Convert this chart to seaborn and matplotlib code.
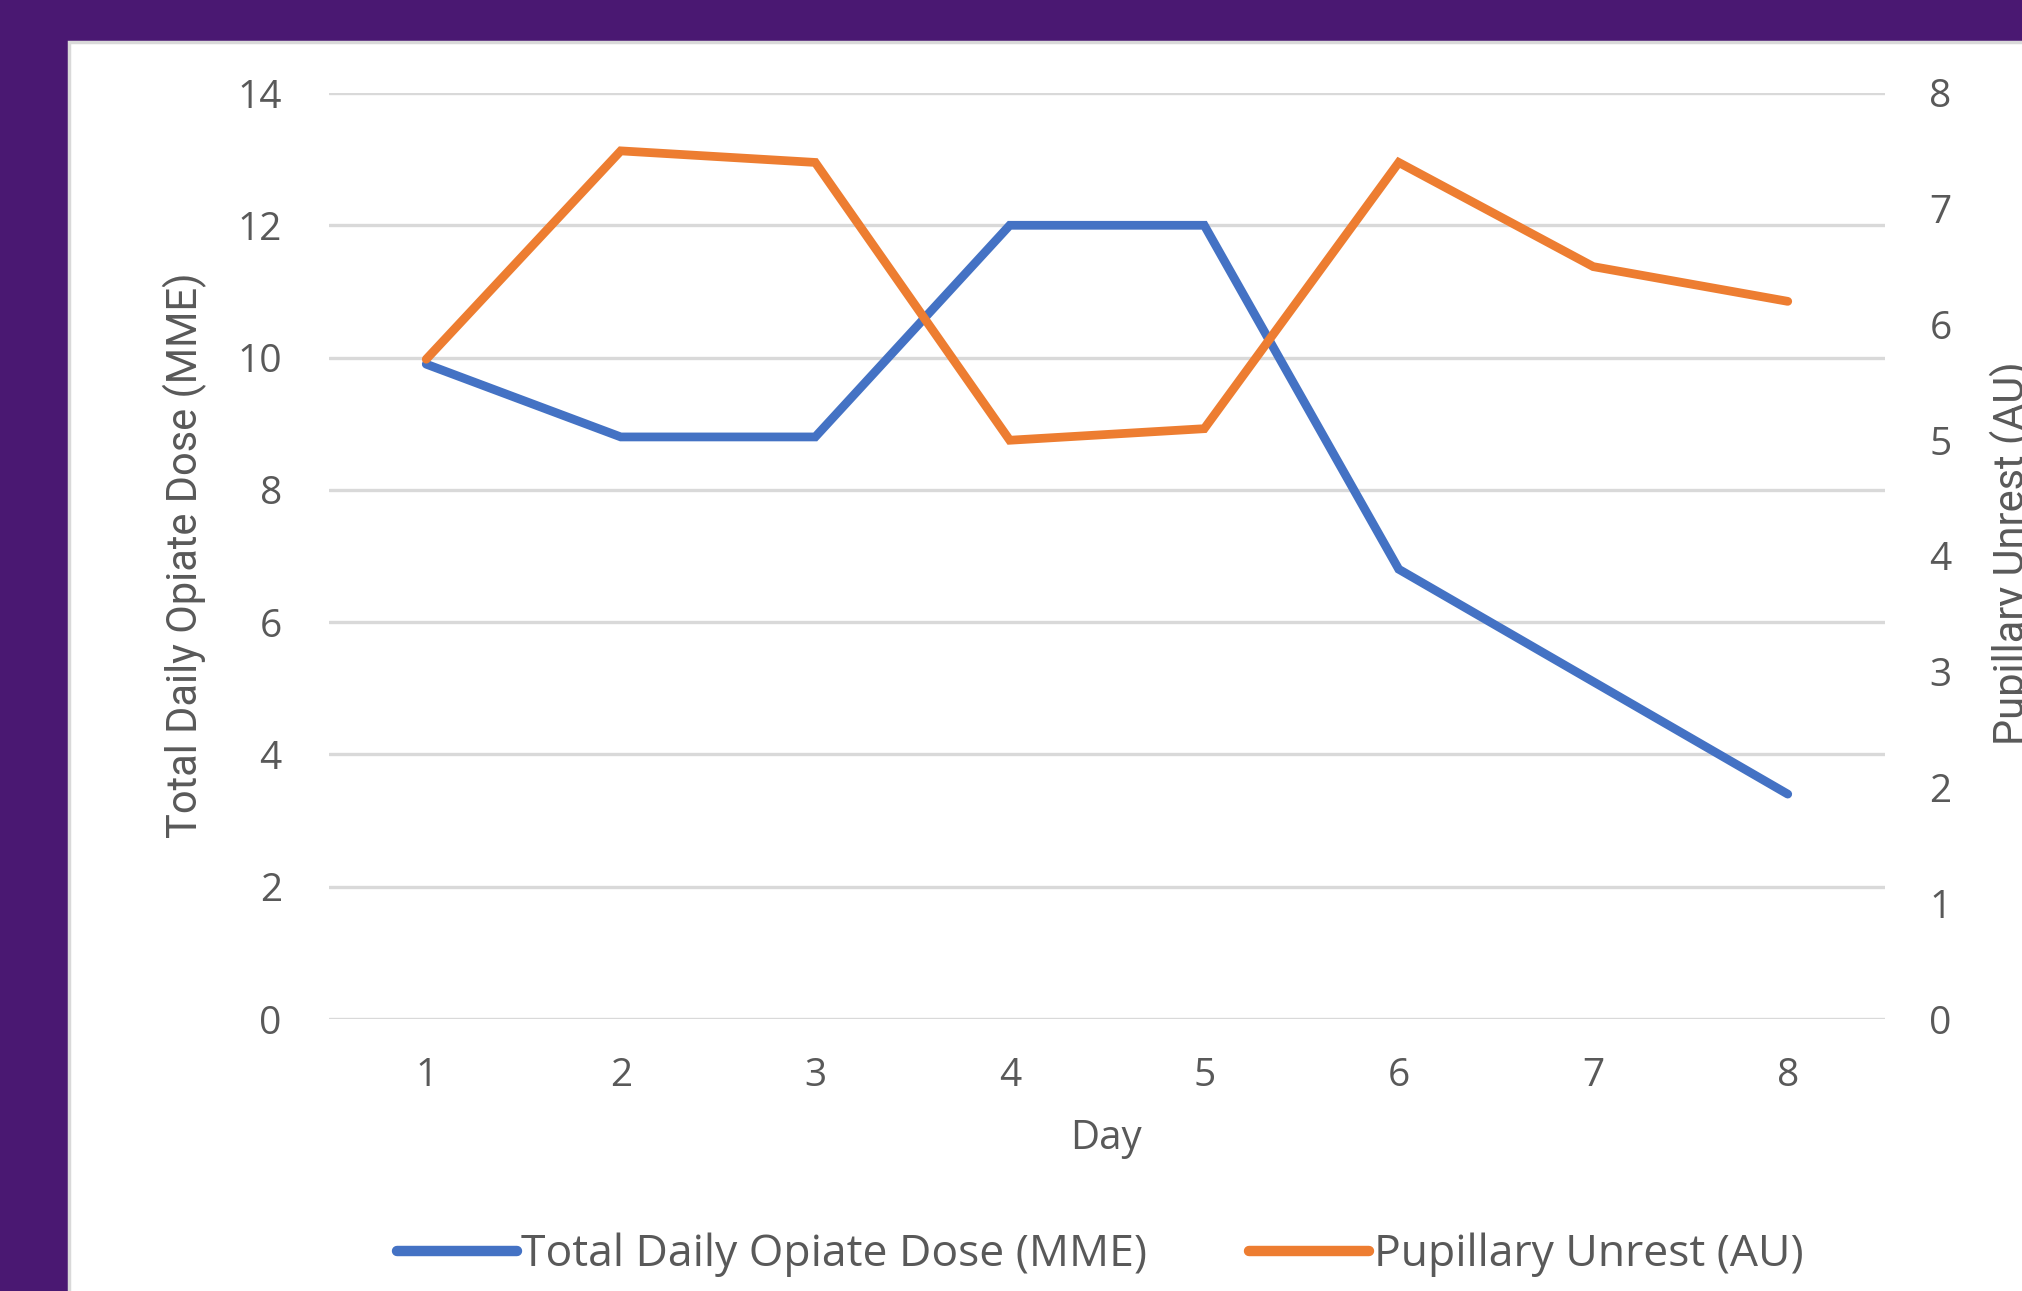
import matplotlib
matplotlib.use("Agg")
import matplotlib.pyplot as plt
from matplotlib import font_manager
from matplotlib.lines import Line2D
from matplotlib.patches import Rectangle
import pandas as pd
import seaborn as sns

# data
days = [1, 2, 3, 4, 5, 6, 7, 8]
opiate_dose = [9.9, 8.8, 8.8, 12.0, 12.0, 6.8, 5.1, 3.4]
pupillary_unrest = [5.7, 7.5, 7.4, 5.0, 5.1, 7.4, 6.5, 6.2]

dose_label = "Total Daily Opiate Dose (MME)"
unrest_label = "Pupillary Unrest (AU)"
left_ticks = [0, 2, 4, 6, 8, 10, 12, 14]
right_ticks = [0, 1, 2, 3, 4, 5, 6, 7, 8]

BLUE = "#4472C4"
ORANGE = "#ED7D31"
PURPLE = "#4A1872"
GRID = "#D9D9D9"
TEXT = "#595959"

sns.set_theme(style="white")
installed = {f.name for f in font_manager.fontManager.ttflist}
MAIN_FONT = ["Open Sans", "DejaVu Sans"]
NARROW_FONT = ["Liberation Sans Narrow", "DejaVu Sans"] if "Liberation Sans Narrow" in installed else ["Roboto", "DejaVu Sans"]
plt.rcParams["font.family"] = MAIN_FONT

df = pd.DataFrame({"Day": days, "dose": opiate_dose, "unrest": pupillary_unrest})

W, H = 2022, 1291
fig = plt.figure(figsize=(W / 100, H / 100), dpi=100, facecolor=PURPLE)

# white chart panel, behind everything
panel = Rectangle((69 / W, -0.05), 1.0, (H - 42) / H + 0.05, transform=fig.transFigure,
                  facecolor="white", edgecolor=GRID, linewidth=2.5, zorder=-10)
fig.patches.append(panel)

ax = fig.add_axes([329 / W, 1 - 1019 / H, (1885 - 329) / W, (1019 - 93) / H])
ax.set_facecolor("none")
ax2 = ax.twinx()
ax2.set_facecolor("none")

sns.lineplot(data=df, x="Day", y="dose", ax=ax, color=BLUE, linewidth=6.3,
             solid_capstyle="round", solid_joinstyle="miter", zorder=3)
sns.lineplot(data=df, x="Day", y="unrest", ax=ax2, color=ORANGE, linewidth=6.3,
             solid_capstyle="round", solid_joinstyle="miter", zorder=3)

ax.set_xlim(0.5, 8.5)
ax.set_ylim(0, 14)
ax2.set_ylim(0, 8)
ax.set_xticks(days)
ax.set_yticks(left_ticks)
ax2.set_yticks(right_ticks)

for a in (ax, ax2):
    for s in a.spines.values():
        s.set_visible(False)
    a.set_xlabel("")
    a.set_ylabel("")
    a.tick_params(length=0, labelsize=28, labelcolor=TEXT)

ax.tick_params(axis="y", pad=34)
ax.tick_params(axis="x", pad=27)
ax2.tick_params(axis="y", pad=32)
for lab in ax.get_xticklabels() + ax.get_yticklabels() + ax2.get_yticklabels():
    lab.set_fontfamily(MAIN_FONT)

ax.grid(axis="y", color=GRID, linewidth=2.4)
ax.grid(axis="x", visible=False)
ax2.grid(False)
ax.set_axisbelow(True)

# axis titles
fig.text(185 / W, 1 - 555 / H, dose_label, rotation=90, ha="center", va="center",
         fontsize=30, color=TEXT, family=NARROW_FONT)
fig.text(1990 / W, 1 - 553 / H, unrest_label, rotation=90, ha="left", va="center",
         fontsize=30, color=TEXT, family=NARROW_FONT)
fig.text(1106 / W, 1 - 1139 / H, "Day", ha="center", va="center",
         fontsize=29, color=TEXT, family=MAIN_FONT)

handles = [
    Line2D([], [], color=BLUE, linewidth=7.5, solid_capstyle="round"),
    Line2D([], [], color=ORANGE, linewidth=7.5, solid_capstyle="round"),
]
leg = fig.legend(handles, [dose_label, unrest_label], loc="center",
                 bbox_to_anchor=(1100 / W, 1 - 1255 / H), ncol=2, frameon=False,
                 handlelength=2.7, handletextpad=0.1, columnspacing=2.3,
                 prop={"family": MAIN_FONT, "size": 32})
for t in leg.get_texts():
    t.set_color(TEXT)

fig.savefig("out.png", dpi=100, facecolor=PURPLE)
